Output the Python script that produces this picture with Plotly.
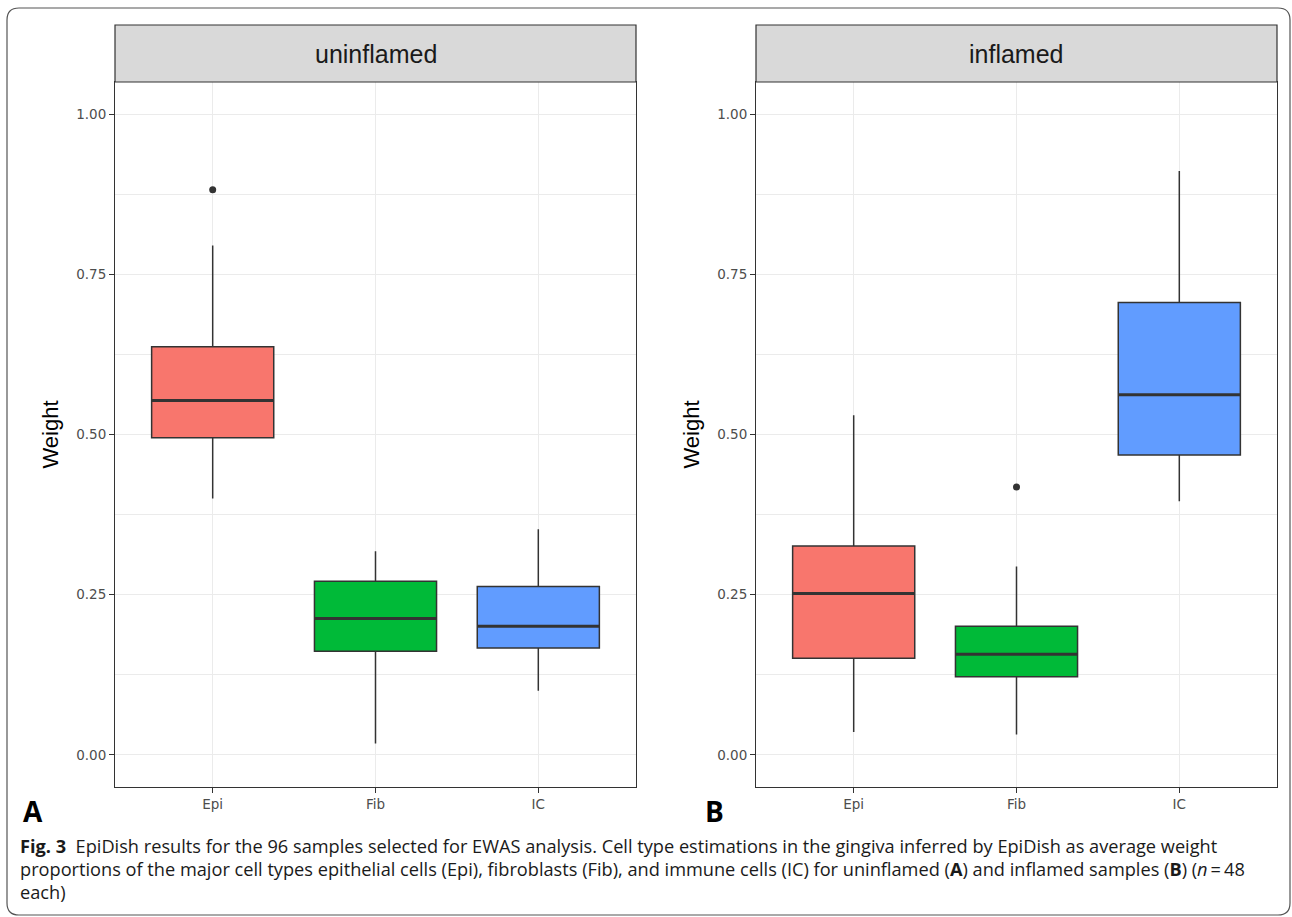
import plotly.graph_objects as go

# ---------------- data ----------------
categories = ["Epi", "Fib", "IC"]
box_colors = ["#F8766D", "#00BA38", "#619CFF"]

panel_titles = ["uninflamed", "inflamed"]
panel_letters = ["A", "B"]

uninfl_lower = [0.400, 0.018, 0.100]
uninfl_q1 = [0.495, 0.162, 0.167]
uninfl_median = [0.553, 0.213, 0.201]
uninfl_q3 = [0.637, 0.271, 0.263]
uninfl_upper = [0.795, 0.318, 0.352]
uninfl_outlier_cat = ["Epi"]
uninfl_outlier_val = [0.882]

infl_lower = [0.036, 0.032, 0.396]
infl_q1 = [0.151, 0.122, 0.468]
infl_median = [0.252, 0.157, 0.562]
infl_q3 = [0.326, 0.201, 0.706]
infl_upper = [0.530, 0.294, 0.911]
infl_outlier_cat = ["Fib"]
infl_outlier_val = [0.418]

y_tickvals = [0.0, 0.25, 0.5, 0.75, 1.0]
y_ticktext = ["0.00", "0.25", "0.50", "0.75", "1.00"]
y_title = "Weight"

caption_lines = [
    "<b>Fig. 3</b>  EpiDish results for the 96 samples selected for EWAS analysis. Cell type estimations in the gingiva inferred by EpiDish as average weight",
    "proportions of the major cell types epithelial cells (Epi), fibroblasts (Fib), and immune cells (IC) for uninflamed (<b>A</b>) and inflamed samples (<b>B</b>) (<i>n</i>\u2009=\u200948",
    "each)",
]

# ---------------- layout geometry ----------------
W, H = 1292, 917
def px(x):
    return x / W
def py(y):
    return 1 - y / H

panel_left = [115, 756]
panel_right = [636, 1277]
panel_top, panel_bottom = 82, 787
strip_top = 25

fig = go.Figure()

panels = [
    (uninfl_lower, uninfl_q1, uninfl_median, uninfl_q3, uninfl_upper, uninfl_outlier_cat, uninfl_outlier_val),
    (infl_lower, infl_q1, infl_median, infl_q3, infl_upper, infl_outlier_cat, infl_outlier_val),
]

box_width = 0.75
for p, (lo, q1, med, q3, up, ocat, oval) in enumerate(panels):
    xa = "x" if p == 0 else "x2"
    ya = "y" if p == 0 else "y2"
    for i, cat in enumerate(categories):
        fig.add_trace(go.Box(
            x=[cat], q1=[q1[i]], median=[med[i]], q3=[q3[i]],
            lowerfence=[lo[i]], upperfence=[up[i]],
            width=box_width, fillcolor=box_colors[i],
            line=dict(color="#333333", width=1.5),
            whiskerwidth=0, boxpoints=False, showlegend=False,
            hoverinfo="skip", xaxis=xa, yaxis=ya,
        ))
    # thicker median line (ggplot fatten)
    panel_px = panel_right[p] - panel_left[p]
    box_px = box_width * panel_px / 3.2
    fig.add_trace(go.Scatter(
        x=categories, y=med, mode="markers",
        marker=dict(symbol="line-ew", size=box_px / 1.4,
                    line=dict(width=3, color="#333333")),
        showlegend=False, hoverinfo="skip", xaxis=xa, yaxis=ya,
    ))
    fig.add_trace(go.Scatter(
        x=ocat, y=oval, mode="markers",
        marker=dict(size=7, color="#333333"),
        showlegend=False, hoverinfo="skip", xaxis=xa, yaxis=ya,
    ))

common_x = dict(
    type="category", categoryorder="array", categoryarray=categories,
    range=[-0.6, 2.6], showgrid=True, gridcolor="#EBEBEB", gridwidth=1.2,
    showline=True, mirror=True, linecolor="#333333", linewidth=1,
    ticks="outside", ticklen=5, tickcolor="#333333", tickwidth=1,
    tickfont=dict(family="DejaVu Sans", size=13.5, color="#4D4D4D"),
    zeroline=False, fixedrange=True,
)
common_y = dict(
    range=[-0.05, 1.05], tickvals=y_tickvals, ticktext=y_ticktext,
    showgrid=True, gridcolor="#EBEBEB", gridwidth=1.2,
    minor=dict(dtick=0.125, tick0=0.125, showgrid=True, gridcolor="#EBEBEB", gridwidth=0.9),
    showline=True, mirror=True, linecolor="#333333", linewidth=1,
    ticks="outside", ticklen=5, tickcolor="#333333", tickwidth=1,
    tickfont=dict(family="DejaVu Sans", size=13.5, color="#4D4D4D"),
    zeroline=False, fixedrange=True,
    domain=[py(panel_bottom), py(panel_top)],
)

fig.update_layout(
    width=W, height=H,
    margin=dict(l=0, r=0, t=0, b=0),
    paper_bgcolor="white", plot_bgcolor="white",
    boxmode="overlay",
    xaxis=dict(common_x, domain=[px(panel_left[0]), px(panel_right[0])], anchor="y"),
    yaxis=dict(common_y, anchor="x"),
    xaxis2=dict(common_x, domain=[px(panel_left[1]), px(panel_right[1])], anchor="y2"),
    yaxis2=dict(common_y, anchor="x2"),
)

shapes = []
annotations = []

# outer rounded frame
x0, x1, y0, y1, r = 7, 1290, 8, 915, 12
path = (f"M {px(x0+r)},{py(y0)} L {px(x1-r)},{py(y0)} Q {px(x1)},{py(y0)} {px(x1)},{py(y0+r)} "
        f"L {px(x1)},{py(y1-r)} Q {px(x1)},{py(y1)} {px(x1-r)},{py(y1)} "
        f"L {px(x0+r)},{py(y1)} Q {px(x0)},{py(y1)} {px(x0)},{py(y1-r)} "
        f"L {px(x0)},{py(y0+r)} Q {px(x0)},{py(y0)} {px(x0+r)},{py(y0)} Z")
shapes.append(dict(type="path", xref="paper", yref="paper", path=path,
                   line=dict(color="#555555", width=1.2), fillcolor="rgba(0,0,0,0)"))

for p in range(2):
    shapes.append(dict(type="rect", xref="paper", yref="paper",
                       x0=px(panel_left[p]), x1=px(panel_right[p]),
                       y0=py(panel_top), y1=py(strip_top),
                       fillcolor="#D9D9D9", line=dict(color="#333333", width=1.2)))
    annotations.append(dict(
        text=panel_titles[p], xref="paper", yref="paper",
        x=px((panel_left[p] + panel_right[p]) / 2), y=py((strip_top + panel_top) / 2),
        xanchor="center", yanchor="middle", showarrow=False,
        font=dict(family="Liberation Sans", size=25, color="#1A1A1A"),
    ))
    annotations.append(dict(
        text=y_title, xref="paper", yref="paper", textangle=-90,
        x=px(panel_left[p] - 65), y=py((panel_top + panel_bottom) / 2),
        xanchor="center", yanchor="middle", showarrow=False,
        font=dict(family="Liberation Sans", size=22, color="#000000"),
    ))
    annotations.append(dict(
        text=f"<b>{panel_letters[p]}</b>", xref="paper", yref="paper",
        x=px([21, 703][p]), y=py(811),
        xanchor="left", yanchor="middle", showarrow=False,
        font=dict(family="Open Sans", size=28, color="#000000"),
    ))

caption_y = [846, 869, 892]
for line, yy in zip(caption_lines, caption_y):
    annotations.append(dict(
        text=line, xref="paper", yref="paper", x=px(18), y=py(yy),
        xanchor="left", yanchor="middle", showarrow=False, align="left",
        font=dict(family="Open Sans", size=18.2, color="#1A1A1A"),
    ))

fig.update_layout(shapes=shapes, annotations=annotations)
fig.write_html("out.html")
